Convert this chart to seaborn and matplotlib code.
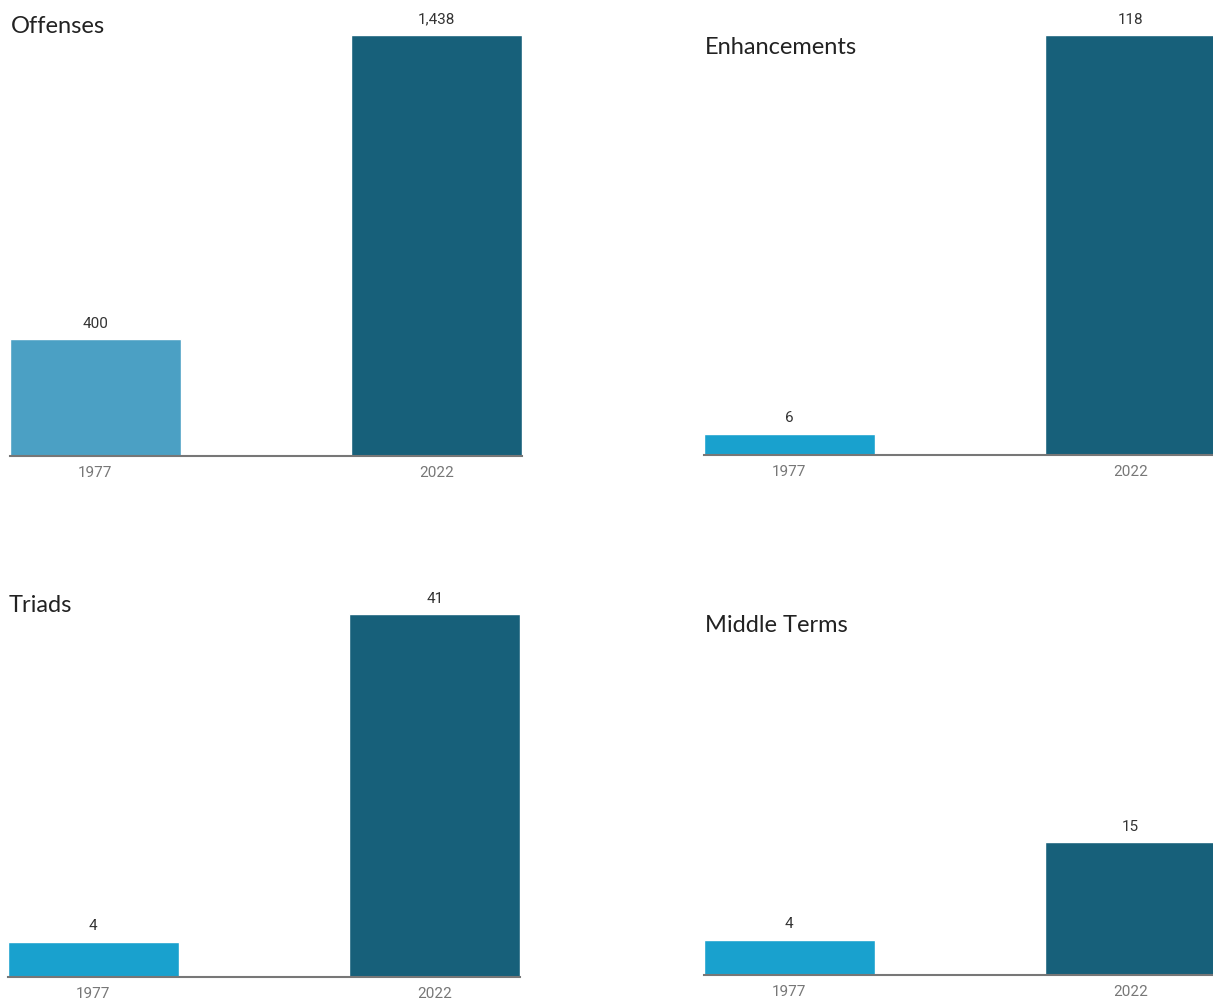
import matplotlib
matplotlib.use("Agg")
import matplotlib.pyplot as plt
import seaborn as sns
import pandas as pd

# data
years = ["1977", "2022"]
offenses = [400, 1438]
enhancements = [6, 118]
triads = [4, 41]
middle_terms = [4, 15]

dark = "#17607A"
light_offenses = "#4BA0C4"
light = "#19A1CE"

sns.set_theme(style="white")
plt.rcParams['font.family'] = ['Roboto', 'DejaVu Sans']

W, H = 1213, 1002
fig = plt.figure(figsize=(W / 100, H / 100), dpi=100)

# (title, values, palette, left px, baseline px, top px (ymax), ymax, title baseline px)
panels = [
    ("Offenses", offenses, [light_offenses, dark], 10, 456, 35, 1438, 33),
    ("Enhancements", enhancements, [light, dark], 704, 455, 35, 118, 54),
    ("Triads", triads, [light, dark], 8, 977, 614, 41, 612),
    ("Middle Terms", middle_terms, [light, dark], 704, 975, 612, 41, 632),
]

for title, vals, pal, left, base, top, ymax, ty in panels:
    ax = fig.add_axes([left / W, 1 - base / H, 512 / W, (base - top) / H])
    df = pd.DataFrame({"year": years, "value": vals})
    sns.barplot(data=df, x="year", y="value", hue="year", palette=pal,
                width=0.5, legend=False, saturation=1, ax=ax)
    ax.set_xlim(-0.25, 1.25)
    ax.set_ylim(0, ymax)
    for c in ax.containers:
        ax.bar_label(c, labels=[f"{v:,.0f}" for v in c.datavalues],
                     padding=6, fontsize=11, color="#333333")
    ax.set_xlabel("")
    ax.set_ylabel("")
    ax.set_yticks([])
    ax.tick_params(axis="x", length=0, pad=7, labelsize=11, labelcolor="#777777")
    for s in ["top", "right", "left"]:
        ax.spines[s].set_visible(False)
    ax.spines["bottom"].set_color("#777777")
    ax.spines["bottom"].set_linewidth(1.5)
    ax.patch.set_alpha(0)
    fig.text((left + 1) / W, 1 - ty / H, title, fontsize=17, color="#222222",
             family=['Lato', 'DejaVu Sans'], va="baseline", ha="left")

fig.savefig("out.png", dpi=100)
